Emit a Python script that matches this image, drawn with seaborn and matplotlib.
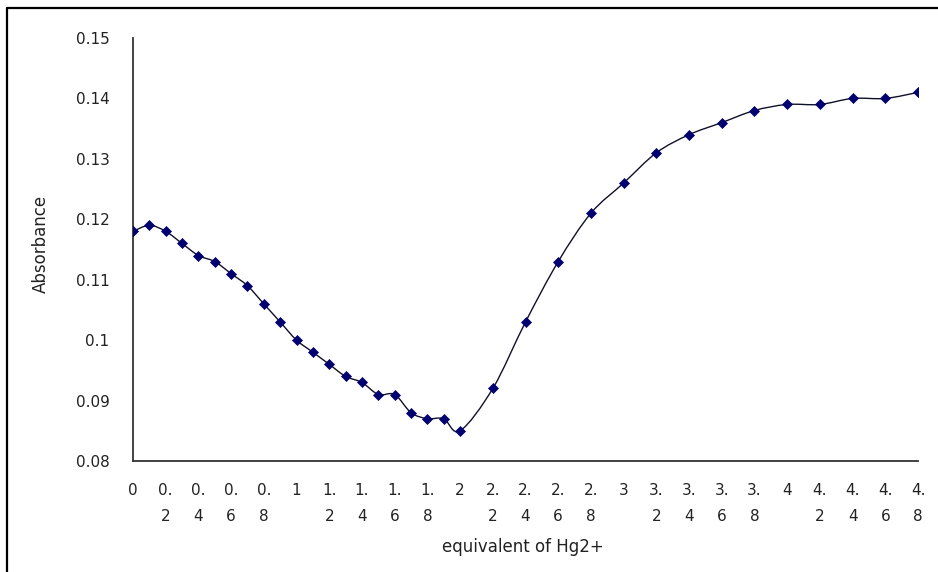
import numpy as np
import pandas as pd
import matplotlib
matplotlib.use("Agg")
import matplotlib.pyplot as plt
from matplotlib.path import Path
from matplotlib.patches import PathPatch
from matplotlib.lines import Line2D
import seaborn as sns

# ---- data ----
equiv = [0.0, 0.1, 0.2, 0.3, 0.4, 0.5, 0.6, 0.7, 0.8, 0.9, 1.0,
         1.1, 1.2, 1.3, 1.4, 1.5, 1.6, 1.7, 1.8, 1.9, 2.0,
         2.2, 2.4, 2.6, 2.8, 3.0, 3.2, 3.4, 3.6, 3.8, 4.0,
         4.2, 4.4, 4.6, 4.8]
absorbance = [0.118, 0.119, 0.118, 0.116, 0.114, 0.113, 0.111, 0.109, 0.106, 0.103, 0.100,
              0.098, 0.096, 0.094, 0.093, 0.091, 0.091, 0.088, 0.087, 0.087, 0.085,
              0.092, 0.103, 0.113, 0.121, 0.126, 0.131, 0.134, 0.136, 0.138, 0.139,
              0.139, 0.140, 0.140, 0.141]

x_ticks = [0.0, 0.2, 0.4, 0.6, 0.8, 1.0, 1.2, 1.4, 1.6, 1.8, 2.0, 2.2, 2.4,
           2.6, 2.8, 3.0, 3.2, 3.4, 3.6, 3.8, 4.0, 4.2, 4.4, 4.6, 4.8]
x_tick_labels = ["0", "0.\n2", "0.\n4", "0.\n6", "0.\n8", "1", "1.\n2", "1.\n4", "1.\n6",
                 "1.\n8", "2", "2.\n2", "2.\n4", "2.\n6", "2.\n8", "3", "3.\n2", "3.\n4",
                 "3.\n6", "3.\n8", "4", "4.\n2", "4.\n4", "4.\n6", "4.\n8"]
y_ticks = [0.08, 0.09, 0.10, 0.11, 0.12, 0.13, 0.14, 0.15]
y_tick_labels = ["0.08", "0.09", "0.1", "0.11", "0.12", "0.13", "0.14", "0.15"]

x_label = "equivalent of Hg2+"
y_label = "Absorbance"

# ---- style ----
sns.set_theme(style="white")
plt.rcParams["font.family"] = ["DejaVu Sans"]

W, H = 938, 572
fig = plt.figure(figsize=(W / 100, H / 100), dpi=100)
fig.patch.set_facecolor("white")
ax = fig.add_axes([133 / W, 1 - 461 / H, (918 - 133) / W, (461 - 38) / H])
ax.set_facecolor("white")

df = pd.DataFrame({"equiv": equiv, "absorbance": absorbance})

# smoothed line (Excel-style Bezier smoothing through the data points)
pts = df[["equiv", "absorbance"]].to_numpy()
n = len(pts)
verts = [pts[0]]
codes = [Path.MOVETO]
for i in range(n - 1):
    p0 = pts[i - 1] if i > 0 else pts[i]
    p1 = pts[i]
    p2 = pts[i + 1]
    p3 = pts[i + 2] if i + 2 < n else pts[i + 1]
    c1 = p1 + (p2 - p0) / 6.0
    c2 = p2 - (p3 - p1) / 6.0
    verts += [c1, c2, p2]
    codes += [Path.CURVE4] * 3
ax.add_patch(PathPatch(Path(verts, codes), facecolor="none",
                       edgecolor="#10102a", lw=1.0, zorder=2))

sns.scatterplot(data=df, x="equiv", y="absorbance", ax=ax, marker="D", s=26,
                color="#000070", edgecolor="#000070", linewidth=0.5, zorder=3,
                legend=False)

ax.set_xlim(0, 4.8)
ax.set_ylim(0.08, 0.15)
ax.set_xticks(x_ticks)
ax.set_xticklabels(x_tick_labels, fontsize=11, linespacing=1.9, color="#222222")
ax.set_yticks(y_ticks)
ax.set_yticklabels(y_tick_labels, fontsize=11, color="#222222")
ax.set_xlabel("")
ax.set_ylabel("")

for s in ["top", "right"]:
    ax.spines[s].set_visible(False)
for s in ["left", "bottom"]:
    ax.spines[s].set_color("#333333")
    ax.spines[s].set_linewidth(1.3)

ax.tick_params(axis="x", direction="in", length=6, width=1.0, color="#333333", pad=16)
ax.tick_params(axis="y", direction="in", length=7, width=1.0, color="#333333", pad=17)
ax.grid(False)

fig.text(523 / W, 1 - 547 / H, x_label, ha="center", va="center",
         fontsize=12, color="#222222")
fig.text(41 / W, 1 - 244 / H, y_label, ha="center", va="center",
         rotation=90, fontsize=12, color="#222222")

# outer chart-area frame (left and top edges visible in reference)
fig.add_artist(Line2D([7 / W, 7 / W], [0, 1 - 8 / H], transform=fig.transFigure,
                      color="black", lw=1.6))
fig.add_artist(Line2D([7 / W, 1], [1 - 8 / H, 1 - 8 / H], transform=fig.transFigure,
                      color="black", lw=1.6))

fig.savefig("out.png", dpi=100, facecolor="white")
